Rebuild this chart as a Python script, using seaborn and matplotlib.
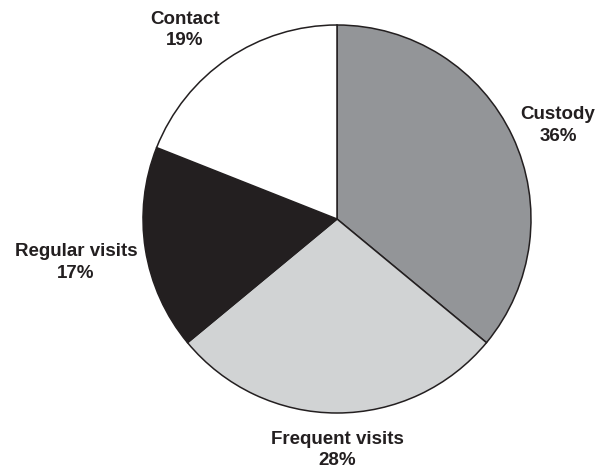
import matplotlib
matplotlib.use("Agg")
import matplotlib.pyplot as plt
import seaborn as sns
import numpy as np

sns.set_theme(style="white")
plt.rcParams['font.family'] = ['Liberation Sans', 'DejaVu Sans']

categories = ["Custody", "Frequent visits", "Regular visits", "Contact"]
values = [36, 28, 17, 19]
colors = ["#939598", "#d1d3d4", "#231f20", "#ffffff"]
label_dist = [1.237, 1.19, 1.365, 1.25]
label_angle_shift = [-2.2, 0, 0.5, 4.6]

fig = plt.figure(figsize=(6.05, 4.72), dpi=100)
ax = fig.add_axes([0, 0, 1, 1])
ax.set_xlim(0, 605)
ax.set_ylim(0, 472)
ax.set_aspect("equal")
ax.axis("off")

cx, cy, r = 337, 472 - 219, 194
wedges, _ = ax.pie(values, colors=colors, startangle=90, counterclock=False,
                   center=(cx, cy), radius=r,
                   wedgeprops=dict(edgecolor="#231f20", linewidth=1.1))
ax.set_xlim(0, 605)
ax.set_ylim(0, 472)

for w, cat, val, d, sh in zip(wedges, categories, values, label_dist, label_angle_shift):
    ang = np.deg2rad((w.theta1 + w.theta2) / 2 + sh)
    x = cx + r * d * np.cos(ang)
    y = cy + r * d * np.sin(ang)
    ax.text(x, y, f"{cat}\n{val}%", ha="center", va="center",
            fontsize=13.5, fontweight="bold", color="#231f20", linespacing=1.35)

fig.savefig("out.png", dpi=100)
